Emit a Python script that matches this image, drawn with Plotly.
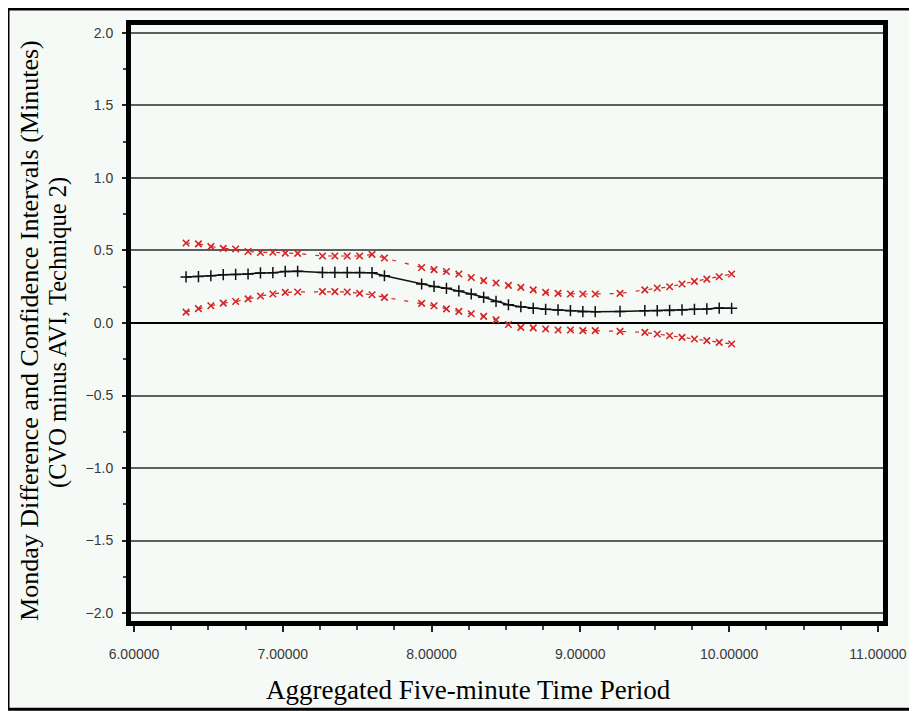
import plotly.graph_objects as go

# ---- data ----
period = [6.3500, 6.4333, 6.5167, 6.6000, 6.6833, 6.7667, 6.8500, 6.9333, 7.0167, 7.1000,
          7.2667, 7.3500, 7.4333, 7.5167, 7.6000, 7.6833,
          7.9333, 8.0167, 8.1000, 8.1833, 8.2667, 8.3500, 8.4333, 8.5167, 8.6000, 8.6833,
          8.7667, 8.8500, 8.9333, 9.0167, 9.1000,
          9.2667, 9.4333, 9.5167, 9.6000, 9.6833, 9.7667, 9.8500, 9.9333, 10.0167]
mean_diff = [0.318, 0.320, 0.326, 0.333, 0.335, 0.338, 0.345, 0.347, 0.356, 0.357,
             0.349, 0.349, 0.349, 0.349, 0.347, 0.326,
             0.269, 0.252, 0.239, 0.221, 0.200, 0.177, 0.149, 0.126, 0.112, 0.101,
             0.094, 0.090, 0.085, 0.078, 0.078,
             0.080, 0.085, 0.085, 0.087, 0.090, 0.094, 0.097, 0.103, 0.101]
upper_ci = [0.552, 0.546, 0.527, 0.515, 0.510, 0.493, 0.486, 0.488, 0.482, 0.480,
            0.462, 0.462, 0.462, 0.462, 0.473, 0.448,
            0.383, 0.368, 0.355, 0.338, 0.314, 0.292, 0.276, 0.259, 0.246, 0.228,
            0.211, 0.204, 0.200, 0.200, 0.200,
            0.204, 0.228, 0.241, 0.250, 0.269, 0.287, 0.303, 0.319, 0.338]
lower_ci = [0.075, 0.099, 0.119, 0.137, 0.148, 0.166, 0.186, 0.200, 0.211, 0.214,
            0.216, 0.216, 0.214, 0.204, 0.195, 0.177,
            0.135, 0.119, 0.097, 0.080, 0.064, 0.046, 0.022, -0.010, -0.030, -0.034,
            -0.041, -0.048, -0.048, -0.053, -0.053,
            -0.058, -0.065, -0.076, -0.088, -0.099, -0.110, -0.122, -0.134, -0.145]

x_title = "Aggregated Five-minute Time Period"
y_title_1 = "Monday Difference and Confidence Intervals (Minutes)"
y_title_2 = "(CVO minus AVI, Technique 2)"

# ---- layout geometry (screen pixels; the page body adds an 8px margin) ----
OFF = 8
W, H = 917, 711
SCR_L, SCR_T, SCR_R, SCR_B = 131, 23, 883, 621   # plot-area edges on screen
L = SCR_L - OFF
T = SCR_T - OFF
R = W - (SCR_R - OFF)
B = H - (SCR_B - OFF)
PW, PH = W - L - R, H - T - B

def px(xs):
    return (xs - OFF - L) / PW

def py(ys):
    return (H - B - (ys - OFF)) / PH

BG = "#f6faf7"
RED = "#d42424"

fig = go.Figure()
for vals in (upper_ci, lower_ci):
    fig.add_trace(go.Scatter(
        x=period, y=vals, mode="lines+markers",
        line=dict(color=RED, width=1.2, dash="4px,9px"),
        marker=dict(symbol="x-thin-open", size=6.5, line=dict(color=RED, width=1.6)),
        hoverinfo="x+y"))
fig.add_trace(go.Scatter(
    x=period, y=mean_diff, mode="lines+markers",
    line=dict(color="#111111", width=1.5),
    marker=dict(symbol="cross-thin-open", size=8, line=dict(color="#111111", width=1.5)),
    hoverinfo="x+y"))

tickfont = dict(family="Liberation Sans, Arial, sans-serif", size=14, color="#383838")
fig.update_layout(
    width=W, height=H,
    margin=dict(l=L, r=R, t=T, b=B),
    paper_bgcolor=BG, plot_bgcolor=BG,
    showlegend=False,
    xaxis=dict(range=[5.98, 11.034], tickvals=[6, 7, 8, 9, 10, 11], tickformat=".5f",
               showgrid=False, zeroline=False,
               showline=True, linewidth=5, linecolor="black", mirror=True,
               ticks="outside", ticklen=6, tickwidth=2, tickcolor="#222",
               minor=dict(dtick=0.25, ticks="outside", ticklen=4, tickwidth=1.5,
                          tickcolor="#444", showgrid=False),
               tickfont=tickfont, ticklabelstandoff=10),
    yaxis=dict(range=[-2.055, 2.055], tickvals=[-2, -1.5, -1, -0.5, 0, 0.5, 1, 1.5, 2],
               tickformat=".1f",
               showgrid=True, gridcolor="#5e605e", gridwidth=1.5,
               zeroline=True, zerolinecolor="black", zerolinewidth=1.5,
               showline=True, linewidth=5, linecolor="black", mirror=True,
               ticks="outside", ticklen=4, tickwidth=2, tickcolor="#222",
               minor=dict(dtick=0.25, ticks="outside", ticklen=3, tickwidth=1.5,
                          tickcolor="#444", showgrid=False),
               tickfont=tickfont, ticklabelstandoff=6),
)

serif = "Liberation Serif, Times New Roman, serif"
fig.add_annotation(text=x_title, xref="paper", yref="paper", x=px(468), y=py(690),
                   xanchor="center", yanchor="middle", showarrow=False,
                   font=dict(family=serif, size=27, color="black"))
fig.add_annotation(text=y_title_1, xref="paper", yref="paper", x=px(30), y=py(330),
                   xanchor="center", yanchor="middle", showarrow=False, textangle=-90,
                   font=dict(family=serif, size=26, color="black"))
fig.add_annotation(text=y_title_2, xref="paper", yref="paper", x=px(58), y=py(332),
                   xanchor="center", yanchor="middle", showarrow=False, textangle=-90,
                   font=dict(family=serif, size=24.5, color="black"))

# outer frame of the picture
fig.add_shape(type="rect", xref="paper", yref="paper",
              x0=px(8), y0=py(709.5), x1=px(935), y1=py(7),
              line=dict(color="black", width=3), fillcolor="rgba(0,0,0,0)", layer="above")

fig.write_html("out.html")
